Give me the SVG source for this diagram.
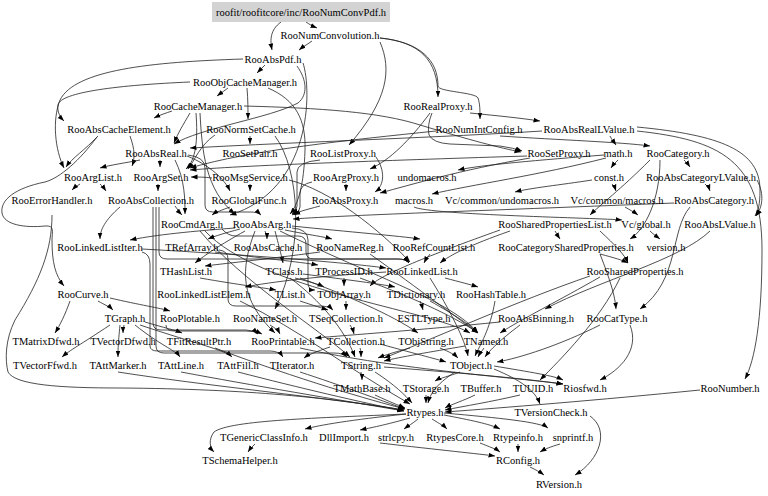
<svg xmlns="http://www.w3.org/2000/svg" width="768" height="496" viewBox="0 0 768 496">
<style>
text{font-family:"Liberation Serif","Times New Roman",serif;font-size:10.5px;fill:#000;text-anchor:middle}
.e path{fill:none;stroke:#222;stroke-width:0.8;marker-end:url(#a)}
</style>
<defs>
<marker id="a" markerUnits="userSpaceOnUse" markerWidth="7" markerHeight="6" refX="6.5" refY="3" orient="auto"><path d="M0,0.6 L6.5,3 L0,5.4 z" fill="#000"/></marker>
</defs>
<rect width="768" height="496" fill="#fff"/>
<g id="edges" class="e">
<path d="M306,22 C309,24 312,26 317,28"/>
<path d="M281,22 C270,30 270,40 272,50"/>
<path d="M312,41 C308,44 304,46 299,50"/>
<path d="M380,38 C420,42 438,60 438,97"/>
<path d="M380,42 C392,70 388,100 349,145"/>
<path d="M380,38 C420,42 438,60 438,86 C438,92 475,92 478,98 C480,104 480,110 480,119"/>
<path d="M265,65 C262,68 260,70 257,73"/>
<path d="M297,66 C307,80 308,95 298,103 C270,118 200,128 174,144"/>
<path d="M243,59 C150,62 75,70 60,100 C52,120 55,150 64,168"/>
<path d="M303,63 C312,90 312,190 230,215"/>
<path d="M228,88 C224,91 221,93 217,96"/>
<path d="M247,88 C248,100 248,110 248,119"/>
<path d="M190,82 C120,85 60,92 58,105 C57,112 60,117 64,121"/>
<path d="M268,88 C296,100 306,120 305,150 C304,185 298,205 290,214"/>
<path d="M172,111 C166,113 160,115 154,118"/>
<path d="M190,113 C183,125 178,133 174,143"/>
<path d="M196,113 C198,140 196,160 186,169"/>
<path d="M200,113 C202,150 205,190 235,214"/>
<path d="M244,106 C320,108 380,112 420,125 C470,140 500,148 521,152"/>
<path d="M432,113 Q427,125 429,135 Q433,143 450,144 L500,146 Q514,148 522,151"/>
<path d="M470,113 C500,116 520,118 540,121"/>
<path d="M430,113 C410,140 390,160 370,169"/>
<path d="M98,136 C85,150 72,158 66,167"/>
<path d="M130,136 C135,150 135,158 132,166"/>
<path d="M250,136 C250,139 250,141 250,144"/>
<path d="M275,136 C300,170 305,250 275,309"/>
<path d="M215,135 C200,145 195,160 188,169"/>
<path d="M500,136 C560,140 620,142 650,146"/>
<path d="M436,131 C350,140 250,150 190,168"/>
<path d="M542,131 C450,137 300,142 190,148"/>
<path d="M637,127 C720,135 760,150 760,190 C760,205 758,212 755,216"/>
<path d="M637,131 C720,140 762,160 762,250 C762,320 755,360 745,379"/>
<path d="M610,136 C612,140 614,142 616,145"/>
<path d="M710,231 C680,260 600,280 545,309"/>
<path d="M160,160 C160,162 160,164 160,167"/>
<path d="M140,160 C125,163 110,165 100,168"/>
<path d="M188,155 Q205,157 205,168 L205,205 Q205,212 213,212 L250,212 Q258,212 261,215"/>
<path d="M175,160 C185,180 185,200 185,214"/>
<path d="M187,156 C210,165 225,180 230,191"/>
<path d="M97,137 C80,160 60,178 45,182 C15,188 0,200 2,213 C4,225 25,228 45,226 C55,225 52,232 52,240 C52,262 55,275 64,286"/>
<path d="M52,215 C52,250 40,280 15,320 C5,340 5,360 8,372 C15,385 60,388 120,388 C250,389 330,398 404,410"/>
<path d="M100,184 C102,186 104,188 106,191"/>
<path d="M80,184 C77,186 74,188 72,190"/>
<path d="M158,184 C158,186 158,188 158,191"/>
<path d="M250,184 C250,187 250,189 250,191"/>
<path d="M212,178 C205,177 198,177 191,177"/>
<path d="M289,180 C330,190 380,230 410,262"/>
<path d="M346,184 C346,187 346,189 346,191"/>
<path d="M312,182 Q300,184 300,194 L300,207 Q300,212 294,215"/>
<path d="M376,157 C385,170 385,185 375,192"/>
<path d="M320,160 Q297,162 297,172 L297,206 Q297,211 292,214"/>
<path d="M527,156 C400,160 250,165 190,170"/>
<path d="M530,158 C460,170 410,185 380,193"/>
<path d="M618,160 C615,163 613,165 611,168"/>
<path d="M606,158 C540,175 470,185 432,194"/>
<path d="M604,155 C540,160 480,165 458,170"/>
<path d="M612,184 C614,186 615,188 616,191"/>
<path d="M592,180 C560,185 530,188 515,192"/>
<path d="M684,160 C686,162 688,164 690,167"/>
<path d="M650,160 C620,190 600,205 590,215"/>
<path d="M660,160 C660,200 645,230 630,239"/>
<path d="M705,184 C707,186 709,188 710,191"/>
<path d="M757,180 C765,195 762,208 756,216"/>
<path d="M690,207 C670,230 680,280 640,309"/>
<path d="M674,203 C500,210 350,215 293,219"/>
<path d="M414,207 C430,215 600,218 622,220"/>
<path d="M625,207 C630,210 634,212 638,215"/>
<path d="M650,231 C653,234 656,236 660,239"/>
<path d="M120,207 C105,220 100,230 100,239"/>
<path d="M159,207 L159,252 Q159,259 167,259 L398,259 Q406,259 409,263"/>
<path d="M175,206 C178,210 180,213 182,215"/>
<path d="M153,207 L153,323 Q153,330 161,330 L246,330 Q254,330 258,334"/>
<path d="M156,207 L156,346 Q156,353 164,353 L334,353 Q343,353 347,357"/>
<path d="M230,207 C222,210 216,212 212,215"/>
<path d="M320,206 C305,210 297,212 292,215"/>
<path d="M205,231 C260,290 430,310 470,333"/>
<path d="M200,231 C240,280 320,330 350,357"/>
<path d="M222,229 Q228,236 236,236 L298,236 Q306,236 306,244 L306,252 Q306,259 314,259 L398,259 Q406,259 409,263"/>
<path d="M280,231 C380,280 450,300 478,333"/>
<path d="M292,228 Q308,229 308,240 L308,283 Q308,290 315,290"/>
<path d="M240,229 C225,233 215,236 208,239"/>
<path d="M265,231 C266,234 267,236 267,239"/>
<path d="M285,230 C310,235 325,237 332,239"/>
<path d="M292,226 C350,232 400,236 420,239"/>
<path d="M235,228 C180,232 150,236 130,240"/>
<path d="M255,231 C240,270 240,300 275,333"/>
<path d="M275,231 C280,250 282,258 283,263"/>
<path d="M245,231 C220,245 205,255 195,263"/>
<path d="M510,231 C470,245 450,255 440,263"/>
<path d="M600,231 C615,245 625,255 628,263"/>
<path d="M555,231 C557,234 558,236 560,239"/>
<path d="M500,230 C430,255 380,275 370,286"/>
<path d="M142,252 Q150,254 150,264 L150,346 Q150,351 158,351 L270,351 Q279,351 283,357"/>
<path d="M142,249 C250,255 340,262 386,268"/>
<path d="M219,250 Q228,251 228,259 L228,299 Q228,306 236,306 L322,306 Q329,306 333,310"/>
<path d="M215,252 C260,258 300,262 318,265"/>
<path d="M370,254 C420,290 460,320 478,333"/>
<path d="M320,252 C260,260 220,264 205,266"/>
<path d="M430,254 C428,257 426,259 424,263"/>
<path d="M600,254 C615,258 622,260 628,263"/>
<path d="M600,254 C610,280 615,295 616,309"/>
<path d="M200,278 C240,285 265,288 276,290"/>
<path d="M303,274 C350,280 380,284 395,287"/>
<path d="M295,278 C310,282 318,284 324,287"/>
<path d="M290,278 C320,300 345,330 355,357"/>
<path d="M300,278 C360,300 400,320 418,333"/>
<path d="M360,278 C420,300 460,320 478,333"/>
<path d="M344,278 C344,281 344,283 344,286"/>
<path d="M430,278 C450,310 465,340 468,356"/>
<path d="M445,278 C460,282 472,285 478,287"/>
<path d="M386,272 C320,276 270,282 245,287"/>
<path d="M620,278 C600,320 560,360 540,380"/>
<path d="M600,277 C560,300 520,320 500,333"/>
<path d="M590,276 C520,300 430,340 384,358"/>
<path d="M98,301 C105,305 110,307 113,310"/>
<path d="M110,298 C140,305 160,308 170,311"/>
<path d="M70,301 C65,315 60,325 55,333"/>
<path d="M240,301 C300,330 350,370 410,404"/>
<path d="M300,301 C315,306 322,308 328,310"/>
<path d="M346,301 C346,304 346,306 346,310"/>
<path d="M430,301 C455,315 470,325 478,333"/>
<path d="M420,301 C421,304 422,306 423,310"/>
<path d="M495,301 C490,330 480,345 475,356"/>
<path d="M124,325 C124,328 123,330 123,333"/>
<path d="M135,325 C160,345 175,350 180,357"/>
<path d="M140,325 C200,345 225,350 232,357"/>
<path d="M120,325 C118,345 118,350 118,357"/>
<path d="M110,325 C80,345 70,350 62,357"/>
<path d="M145,322 C165,328 175,330 182,333"/>
<path d="M166,325 Q166,331 174,331 L246,331 Q256,331 262,334"/>
<path d="M270,325 C275,328 278,330 280,334"/>
<path d="M350,325 C352,328 353,330 354,334"/>
<path d="M500,322 C420,330 350,335 315,338"/>
<path d="M520,325 C500,340 490,350 485,357"/>
<path d="M600,325 C560,345 520,358 497,362"/>
<path d="M630,325 C640,350 620,370 600,380"/>
<path d="M215,348 C300,380 370,400 405,409"/>
<path d="M300,348 C400,370 520,378 563,384"/>
<path d="M380,344 C420,355 440,360 446,362"/>
<path d="M330,347 C315,352 308,355 304,358"/>
<path d="M360,348 C361,351 361,353 361,357"/>
<path d="M440,348 C450,352 455,355 458,358"/>
<path d="M410,348 C395,352 385,355 378,358"/>
<path d="M484,348 C482,351 480,353 478,357"/>
<path d="M465,346 C430,352 400,357 384,361"/>
<path d="M118,372 C200,385 330,398 404,410"/>
<path d="M181,372 C250,385 340,400 404,411"/>
<path d="M238,372 C300,388 360,402 404,411"/>
<path d="M300,372 C340,385 380,400 405,409"/>
<path d="M361,372 C361,375 362,377 362,380"/>
<path d="M375,372 C395,385 405,395 412,403"/>
<path d="M384,367 C450,372 520,378 563,384"/>
<path d="M460,372 C450,376 440,378 435,381"/>
<path d="M455,372 C435,385 430,395 428,403"/>
<path d="M494,369 C520,380 535,390 540,404"/>
<path d="M494,366 C530,372 555,376 563,380"/>
<path d="M375,395 C390,402 398,405 405,408"/>
<path d="M426,395 C426,398 426,400 426,403"/>
<path d="M475,395 C465,400 450,405 445,408"/>
<path d="M520,395 C490,402 465,406 445,410"/>
<path d="M700,390 C600,400 500,408 445,412"/>
<path d="M406,414 C350,420 320,425 305,429"/>
<path d="M410,418 C385,425 370,428 360,430"/>
<path d="M418,419 C412,424 408,426 404,429"/>
<path d="M432,419 C440,424 444,426 447,429"/>
<path d="M444,415 C470,420 490,424 500,429"/>
<path d="M444,413 C500,418 540,422 548,428"/>
<path d="M406,414 C320,418 230,420 214,432 C208,440 210,448 214,452"/>
<path d="M590,416 C610,430 600,460 575,475"/>
<path d="M255,444 C252,447 250,449 248,452"/>
<path d="M380,443 C440,450 480,454 495,456"/>
<path d="M480,443 C490,447 496,449 500,452"/>
<path d="M518,444 C518,447 518,449 518,452"/>
<path d="M560,444 C550,447 545,449 540,452"/>
<path d="M530,467 C536,470 540,472 544,475"/>
</g>
<g id="n_root"><rect x="212" y="2" width="178" height="20" fill="#d3d3d3"/><text x="301" y="15.5">roofit/roofitcore/inc/RooNumConvPdf.h</text></g>
<g id="n_RooNumConvolution"><text x="330" y="38.5">RooNumConvolution.h</text></g>
<g id="n_RooAbsPdf"><text x="273" y="62.5">RooAbsPdf.h</text></g>
<g id="n_RooObjCacheManager"><text x="245" y="85.5">RooObjCacheManager.h</text></g>
<g id="n_RooCacheManager"><text x="198" y="109.5">RooCacheManager.h</text></g>
<g id="n_RooRealProxy"><text x="438" y="109.5">RooRealProxy.h</text></g>
<g id="n_RooAbsCacheElement"><text x="119" y="132.5">RooAbsCacheElement.h</text></g>
<g id="n_RooNormSetCache"><text x="251" y="132.5">RooNormSetCache.h</text></g>
<g id="n_RooNumIntConfig"><text x="479" y="132.5">RooNumIntConfig.h</text></g>
<g id="n_RooAbsRealLValue"><text x="589" y="132.5">RooAbsRealLValue.h</text></g>
<g id="n_RooAbsReal"><text x="156" y="156.5">RooAbsReal.h</text></g>
<g id="n_RooSetPair"><text x="250" y="156.5">RooSetPair.h</text></g>
<g id="n_RooListProxy"><text x="343" y="156.5">RooListProxy.h</text></g>
<g id="n_RooSetProxy"><text x="559" y="156.5">RooSetProxy.h</text></g>
<g id="n_math"><text x="618" y="156.5">math.h</text></g>
<g id="n_RooCategory"><text x="678" y="156.5">RooCategory.h</text></g>
<g id="n_RooArgList"><text x="93" y="180.5">RooArgList.h</text></g>
<g id="n_RooArgSet"><text x="161" y="180.5">RooArgSet.h</text></g>
<g id="n_RooMsgService"><text x="250" y="180.5">RooMsgService.h</text></g>
<g id="n_RooArgProxy"><text x="346" y="180.5">RooArgProxy.h</text></g>
<g id="n_undomacros"><text x="427" y="180.5">undomacros.h</text></g>
<g id="n_const"><text x="609" y="180.5">const.h</text></g>
<g id="n_RooAbsCategoryLValue"><text x="701" y="180.5">RooAbsCategoryLValue.h</text></g>
<g id="n_RooErrorHandler"><text x="52" y="203.5">RooErrorHandler.h</text></g>
<g id="n_RooAbsCollection"><text x="151" y="203.5">RooAbsCollection.h</text></g>
<g id="n_RooGlobalFunc"><text x="249" y="203.5">RooGlobalFunc.h</text></g>
<g id="n_RooAbsProxy"><text x="345" y="203.5">RooAbsProxy.h</text></g>
<g id="n_macros"><text x="414" y="203.5">macros.h</text></g>
<g id="n_Vc_common_undomacros"><text x="502" y="203.5">Vc/common/undomacros.h</text></g>
<g id="n_Vc_common_macros"><text x="617" y="203.5">Vc/common/macros.h</text></g>
<g id="n_RooAbsCategory"><text x="714" y="203.5">RooAbsCategory.h</text></g>
<g id="n_RooCmdArg"><text x="192" y="227.5">RooCmdArg.h</text></g>
<g id="n_RooAbsArg"><text x="262" y="227.5">RooAbsArg.h</text></g>
<g id="n_RooSharedPropertiesList"><text x="555" y="227.5">RooSharedPropertiesList.h</text></g>
<g id="n_Vc_global"><text x="646" y="227.5">Vc/global.h</text></g>
<g id="n_RooAbsLValue"><text x="720" y="227.5">RooAbsLValue.h</text></g>
<g id="n_RooLinkedListIter"><text x="100" y="250.5">RooLinkedListIter.h</text></g>
<g id="n_TRefArray"><text x="192" y="250.5">TRefArray.h</text></g>
<g id="n_RooAbsCache"><text x="268" y="250.5">RooAbsCache.h</text></g>
<g id="n_RooNameReg"><text x="350" y="250.5">RooNameReg.h</text></g>
<g id="n_RooRefCountList"><text x="434" y="250.5">RooRefCountList.h</text></g>
<g id="n_RooCategorySharedProperties"><text x="566" y="250.5">RooCategorySharedProperties.h</text></g>
<g id="n_version"><text x="666" y="250.5">version.h</text></g>
<g id="n_THashList"><text x="186" y="274.5">THashList.h</text></g>
<g id="n_TClass"><text x="284" y="274.5">TClass.h</text></g>
<g id="n_TProcessID"><text x="344" y="274.5">TProcessID.h</text></g>
<g id="n_RooLinkedList"><text x="422" y="274.5">RooLinkedList.h</text></g>
<g id="n_RooSharedProperties"><text x="635" y="274.5">RooSharedProperties.h</text></g>
<g id="n_RooCurve"><text x="83" y="297.5">RooCurve.h</text></g>
<g id="n_RooLinkedListElem"><text x="204" y="297.5">RooLinkedListElem.h</text></g>
<g id="n_TList"><text x="290" y="297.5">TList.h</text></g>
<g id="n_TObjArray"><text x="344" y="297.5">TObjArray.h</text></g>
<g id="n_TDictionary"><text x="416" y="297.5">TDictionary.h</text></g>
<g id="n_RooHashTable"><text x="491" y="297.5">RooHashTable.h</text></g>
<g id="n_TGraph"><text x="125" y="321.5">TGraph.h</text></g>
<g id="n_RooPlotable"><text x="190" y="321.5">RooPlotable.h</text></g>
<g id="n_RooNameSet"><text x="265" y="321.5">RooNameSet.h</text></g>
<g id="n_TSeqCollection"><text x="346" y="321.5">TSeqCollection.h</text></g>
<g id="n_ESTLType"><text x="424" y="321.5">ESTLType.h</text></g>
<g id="n_RooAbsBinning"><text x="536" y="321.5">RooAbsBinning.h</text></g>
<g id="n_RooCatType"><text x="617" y="321.5">RooCatType.h</text></g>
<g id="n_TMatrixDfwd"><text x="46" y="344.5">TMatrixDfwd.h</text></g>
<g id="n_TVectorDfwd"><text x="123" y="344.5">TVectorDfwd.h</text></g>
<g id="n_TFitResultPtr"><text x="199" y="344.5">TFitResultPtr.h</text></g>
<g id="n_RooPrintable"><text x="283" y="344.5">RooPrintable.h</text></g>
<g id="n_TCollection"><text x="356" y="344.5">TCollection.h</text></g>
<g id="n_TObjString"><text x="426" y="344.5">TObjString.h</text></g>
<g id="n_TNamed"><text x="486" y="344.5">TNamed.h</text></g>
<g id="n_TVectorFfwd"><text x="45" y="368.5">TVectorFfwd.h</text></g>
<g id="n_TAttMarker"><text x="118" y="368.5">TAttMarker.h</text></g>
<g id="n_TAttLine"><text x="181" y="368.5">TAttLine.h</text></g>
<g id="n_TAttFill"><text x="238" y="368.5">TAttFill.h</text></g>
<g id="n_TIterator"><text x="292" y="368.5">TIterator.h</text></g>
<g id="n_TString"><text x="361" y="368.5">TString.h</text></g>
<g id="n_TObject"><text x="471" y="368.5">TObject.h</text></g>
<g id="n_TMathBase"><text x="362" y="391.5">TMathBase.h</text></g>
<g id="n_TStorage"><text x="426" y="391.5">TStorage.h</text></g>
<g id="n_TBuffer"><text x="481" y="391.5">TBuffer.h</text></g>
<g id="n_TUUID"><text x="533" y="391.5">TUUID.h</text></g>
<g id="n_Riosfwd"><text x="585" y="391.5">Riosfwd.h</text></g>
<g id="n_RooNumber"><text x="730" y="391.5">RooNumber.h</text></g>
<g id="n_Rtypes"><text x="425" y="415.5">Rtypes.h</text></g>
<g id="n_TVersionCheck"><text x="551" y="415.5">TVersionCheck.h</text></g>
<g id="n_TGenericClassInfo"><text x="264" y="440.5">TGenericClassInfo.h</text></g>
<g id="n_DllImport"><text x="344" y="440.5">DllImport.h</text></g>
<g id="n_strlcpy"><text x="396" y="440.5">strlcpy.h</text></g>
<g id="n_RtypesCore"><text x="455" y="440.5">RtypesCore.h</text></g>
<g id="n_Rtypeinfo"><text x="518" y="440.5">Rtypeinfo.h</text></g>
<g id="n_snprintf"><text x="573" y="440.5">snprintf.h</text></g>
<g id="n_TSchemaHelper"><text x="240" y="463.5">TSchemaHelper.h</text></g>
<g id="n_RConfig"><text x="518" y="463.5">RConfig.h</text></g>
<g id="n_RVersion"><text x="559" y="487.5">RVersion.h</text></g>
</svg>
